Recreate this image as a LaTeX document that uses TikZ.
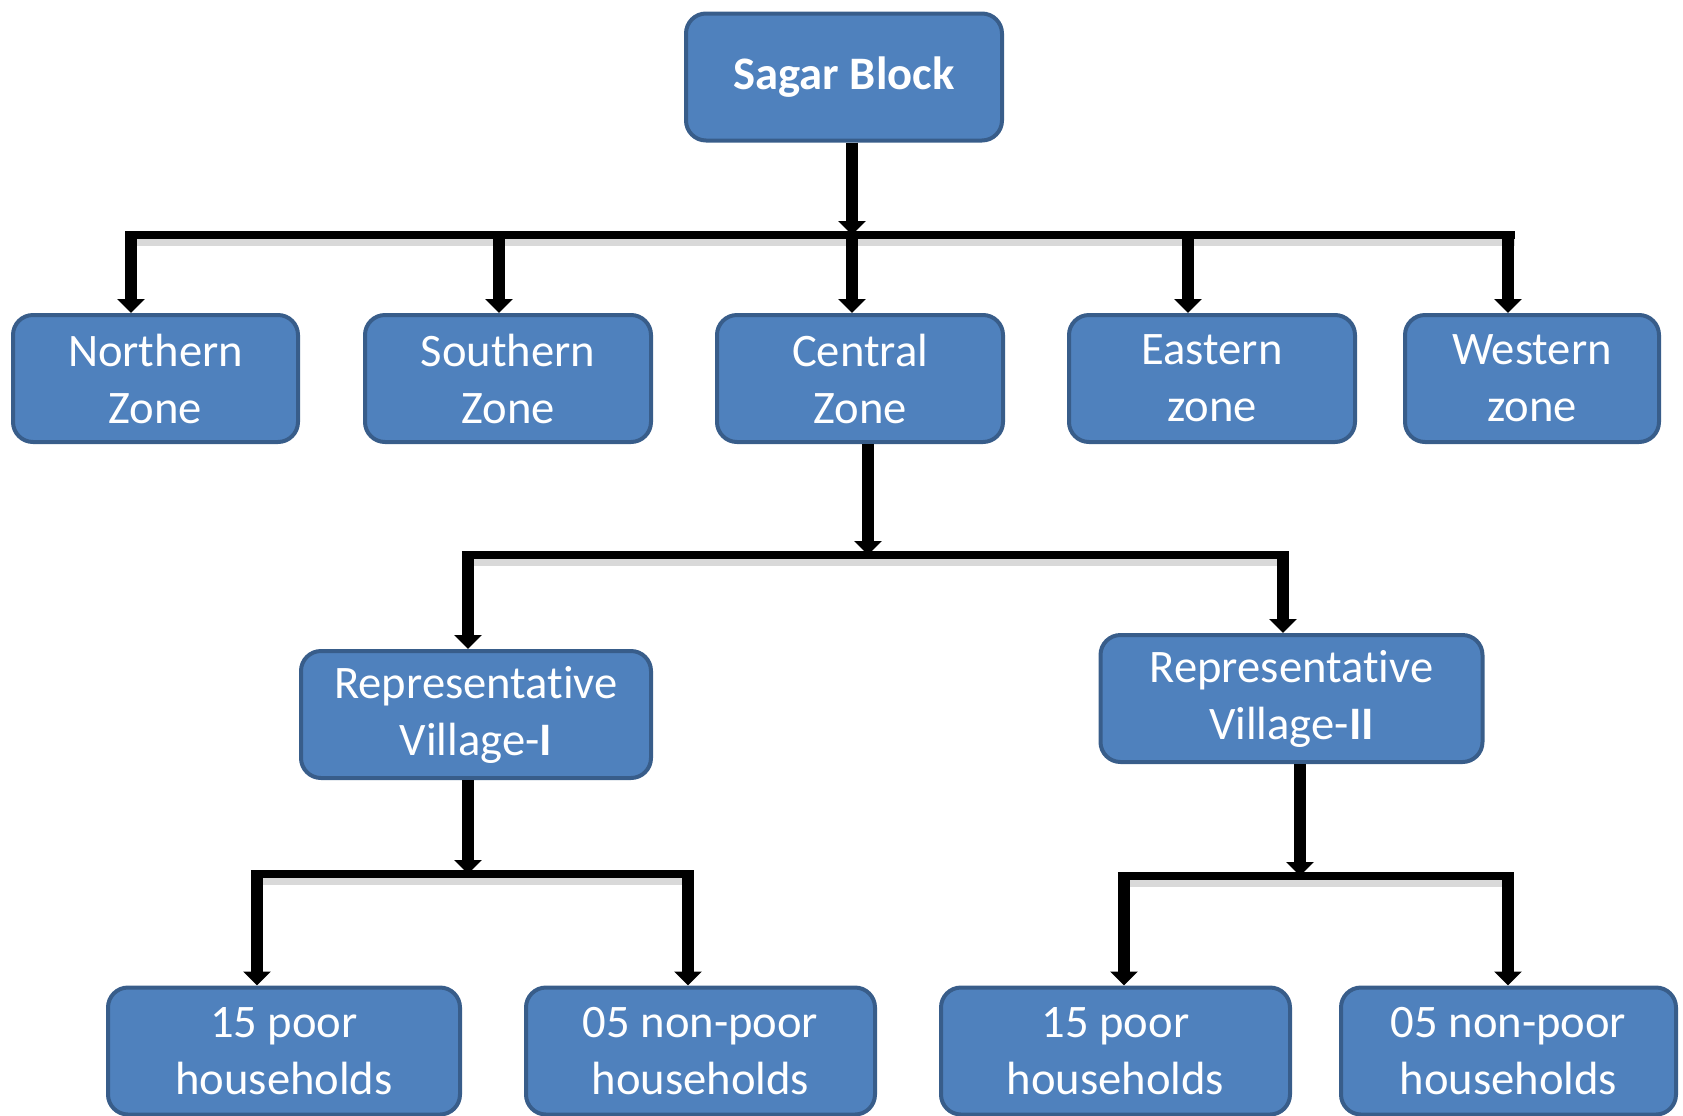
\documentclass[tikz,border=0pt]{standalone}
\usepackage{fontspec}
\setmainfont{Carlito}[Ligatures=NoCommon]
\usetikzlibrary{arrows.meta}

\definecolor{boxfill}{RGB}{79,129,189}
\definecolor{boxline}{RGB}{56,93,138}

\tikzset{
  box/.style={rectangle, rounded corners=10pt, draw=boxline, fill=boxfill, line width=2pt,
    text=white, align=center, inner sep=0pt, minimum height=63.5pt,
    font=\fontsize{23.3}{28.5}\selectfont},
  arr/.style={line width=6.25pt, -{Triangle[width=13.5pt,length=7pt]}},
  bar/.style={line width=4pt, preaction={draw=black!15, line width=5pt, transform canvas={yshift=-3pt}}}
}

\begin{document}
\begin{tikzpicture}[x=0.5pt,y=0.5pt,yscale=-1,xscale=1]
\useasboundingbox (0,0) rectangle (1683,1115);

%Shape: Rounded Rect [top]
\node [box, minimum width=158pt, font=\fontsize{23.3}{28.5}\selectfont\bfseries] (sagar) at (844,77) {Sagar Block};

%Shape: Rounded Rect [zones]
\node [box, minimum width=142.5pt] (north) at (155.5,378.5) {Northern\\Zone};
\node [box, minimum width=143pt] (south) at (508,378.5) {Southern\\Zone};
\node [box, minimum width=143pt] (central) at (860,378.5) {Central\\Zone};
\node [box, minimum width=143pt] (east) at (1212,378.5) {Eastern\\zone};
\node [box, minimum width=127pt] (west) at (1532,378.5) {Western\\zone};

%Shape: Rounded Rect [villages]
\node [box, minimum width=175pt] (vilA) at (476,714.5) {Representative\\Village-\textbf{I}};
\node [box, minimum width=191pt] (vilB) at (1291.5,698.5) {Representative\\Village-\textbf{II}};

%Shape: Rounded Rect [households]
\node [box, minimum width=176pt] (poorA) at (284,1051) {15 poor\\households};
\node [box, minimum width=174.5pt] (richA) at (700.5,1051) {05 non-poor\\households};
\node [box, minimum width=174.5pt] (poorB) at (1115.5,1051) {15 poor\\households};
\node [box, minimum width=167.5pt] (richB) at (1508.5,1051) {05 non-poor\\households};

%Junctions
\coordinate (j1) at (852,235);
\coordinate (b1w) at (125,235);
\coordinate (b1e) at (1515,235);
\coordinate (jn) at (131,235);
\coordinate (js) at (499,235);
\coordinate (je) at (1188,235);
\coordinate (jw) at (1508,235);

\coordinate (j2) at (868,555);
\coordinate (jva) at (468,555);
\coordinate (jvb) at (1283,555);

\coordinate (j3) at (468,874);
\coordinate (jpa) at (257,874);
\coordinate (jra) at (688,874);

\coordinate (j4) at (1300,876);
\coordinate (jpb) at (1124,876);
\coordinate (jrb) at (1508,876);

%Straight Lines [level 1]
\draw [bar] (b1w) -- (b1e);
\draw [arr] (sagar.south -| j1) -- (j1);
\draw [arr] (jn) -- (jn |- north.north);
\draw [arr] (js) -- (js |- south.north);
\draw [arr] (j1) -- (j1 |- central.north);
\draw [arr] (je) -- (je |- east.north);
\draw [arr] (jw) -- (jw |- west.north);

%Straight Lines [level 2]
\draw [bar] ([xshift=-3.125pt]jva) -- ([xshift=3.125pt]jvb);
\draw [arr] (central.south -| j2) -- (j2);
\draw [arr] (jva) -- (jva |- vilA.north);
\draw [arr] (jvb) -- (jvb |- vilB.north);

%Straight Lines [level 3]
\draw [bar] ([xshift=-3.125pt]jpa) -- ([xshift=3.125pt]jra);
\draw [arr] (vilA.south -| j3) -- (j3);
\draw [arr] (jpa) -- (jpa |- poorA.north);
\draw [arr] (jra) -- (jra |- richA.north);

\draw [bar] ([xshift=-3.125pt]jpb) -- ([xshift=3.125pt]jrb);
\draw [arr] (vilB.south -| j4) -- (j4);
\draw [arr] (jpb) -- (jpb |- poorB.north);
\draw [arr] (jrb) -- (jrb |- richB.north);

\end{tikzpicture}
\end{document}
